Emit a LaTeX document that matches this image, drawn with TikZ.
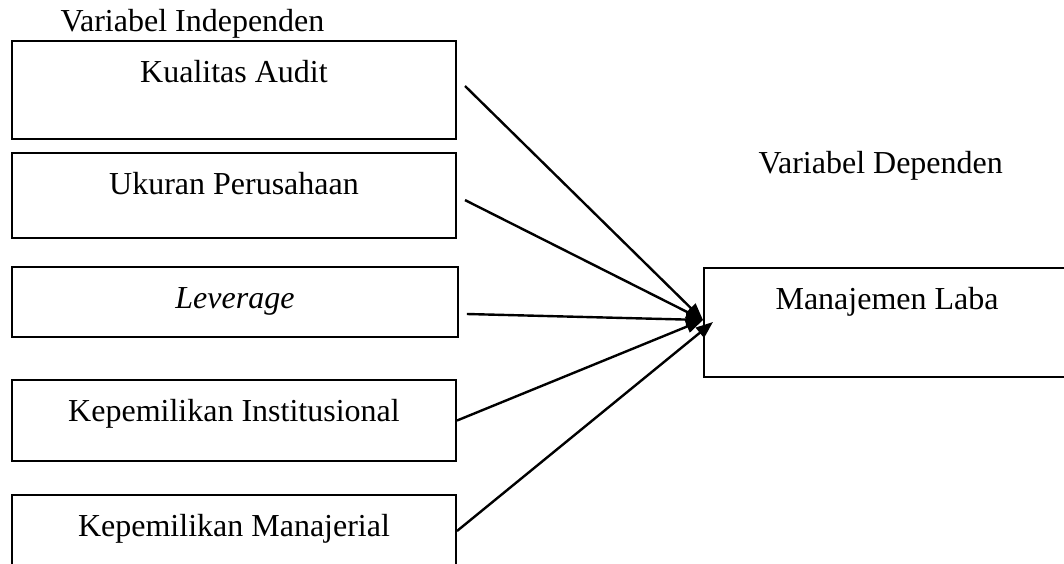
\documentclass[tikz,border=0pt]{standalone}
\usepackage{fontspec}
\setmainfont{Liberation Serif}
\usetikzlibrary{arrows.meta}
\begin{document}
\begin{tikzpicture}[x=0.375pt,y=-0.375pt,
        font=\fontsize{12}{14}\selectfont,
        varbox/.style={draw,line width=0.75pt,anchor=north west,inner sep=0pt,
                text height=15.4pt,minimum width=166.5pt},
        link/.style={line width=0.9pt,-{Triangle[length=6.4pt,width=4.8pt]}}]
        \useasboundingbox (0,0) rectangle (1064,564);
        \clip (0,0) rectangle (1064,564);
        \node (indep) [anchor=base west,inner sep=0pt] at (60,31) {Variabel Independen};
        \node (dep) [anchor=base west,inner sep=0pt] at (758,173) {Variabel Dependen};
        % variabel independen
        \node (audit) [varbox,text depth=21.35pt] at (11,40) {Kualitas Audit};
        \node (ukuran) [varbox,text depth=16.5pt] at (11,152) {Ukuran Perusahaan};
        \node (lev) [varbox,text depth=10.85pt,minimum width=167.2pt] at (11,266) {\textit{Leverage}};
        \node (inst) [varbox,text depth=15pt] at (11,379) {Kepemilikan Institusional};
        \node (manaj) [varbox,text depth=11.6pt] at (11,494) {Kepemilikan Manajerial};
        % variabel dependen
        \node (laba) [varbox,text depth=25.5pt,minimum width=137.3pt] at (703,267) {Manajemen Laba};
        \coordinate (tip) at (703,320);
        \coordinate (tip2) at (713,322);
        \draw[link] ([xshift=3pt,yshift=1.5pt]audit.east) -- (tip);
        \draw[link] ([xshift=3pt,yshift=-1.7pt]ukuran.east) -- (tip);
        \draw[link] ([xshift=3pt,yshift=-4.5pt]lev.east) -- (tip);
        \draw[link] (inst.east) -- (tip);
        \draw[link] (manaj.east) -- (tip2);
\end{tikzpicture}
\end{document}
